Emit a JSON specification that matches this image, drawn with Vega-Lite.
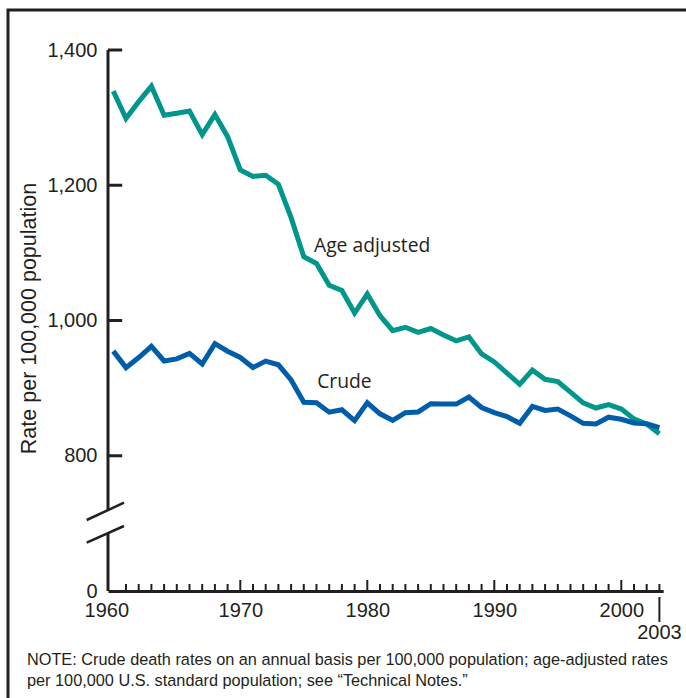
{
  "$schema": "https://vega.github.io/schema/vega-lite/v6.json",
  "width": 555.2,
  "height": 541,
  "autosize": {"type": "none"},
  "padding": {"left": 108, "top": 50, "right": 22.8, "bottom": 107},
  "background": "white",
  "config": {"view": {"stroke": null}, "font": "Liberation Sans"},
  "datasets": {
    "rates": [
      {"year":1960,"series":"Age adjusted","rate":1339.2},{"year":1961,"series":"Age adjusted","rate":1298.8},{"year":1962,"series":"Age adjusted","rate":1323.6},{"year":1963,"series":"Age adjusted","rate":1346.3},{"year":1964,"series":"Age adjusted","rate":1303.6},{"year":1965,"series":"Age adjusted","rate":1306.5},{"year":1966,"series":"Age adjusted","rate":1309.7},{"year":1967,"series":"Age adjusted","rate":1274.8},{"year":1968,"series":"Age adjusted","rate":1304.5},{"year":1969,"series":"Age adjusted","rate":1271.8},
      {"year":1970,"series":"Age adjusted","rate":1222.6},{"year":1971,"series":"Age adjusted","rate":1213.1},{"year":1972,"series":"Age adjusted","rate":1214.8},{"year":1973,"series":"Age adjusted","rate":1201.4},{"year":1974,"series":"Age adjusted","rate":1152.1},{"year":1975,"series":"Age adjusted","rate":1094.3},{"year":1976,"series":"Age adjusted","rate":1084.4},{"year":1977,"series":"Age adjusted","rate":1052.1},{"year":1978,"series":"Age adjusted","rate":1044.5},{"year":1979,"series":"Age adjusted","rate":1011.0},
      {"year":1980,"series":"Age adjusted","rate":1039.1},{"year":1981,"series":"Age adjusted","rate":1007.1},{"year":1982,"series":"Age adjusted","rate":985.0},{"year":1983,"series":"Age adjusted","rate":990.0},{"year":1984,"series":"Age adjusted","rate":982.5},{"year":1985,"series":"Age adjusted","rate":988.1},{"year":1986,"series":"Age adjusted","rate":978.6},{"year":1987,"series":"Age adjusted","rate":970.0},{"year":1988,"series":"Age adjusted","rate":975.7},{"year":1989,"series":"Age adjusted","rate":950.5},
      {"year":1990,"series":"Age adjusted","rate":938.7},{"year":1991,"series":"Age adjusted","rate":922.3},{"year":1992,"series":"Age adjusted","rate":905.6},{"year":1993,"series":"Age adjusted","rate":926.5},{"year":1994,"series":"Age adjusted","rate":913.0},{"year":1995,"series":"Age adjusted","rate":909.8},{"year":1996,"series":"Age adjusted","rate":894.1},{"year":1997,"series":"Age adjusted","rate":878.1},{"year":1998,"series":"Age adjusted","rate":870.6},{"year":1999,"series":"Age adjusted","rate":875.6},
      {"year":2000,"series":"Age adjusted","rate":869.0},{"year":2001,"series":"Age adjusted","rate":854.5},{"year":2002,"series":"Age adjusted","rate":846.8},{"year":2003,"series":"Age adjusted","rate":832.7},
      {"year":1960,"series":"Crude","rate":954.7},{"year":1961,"series":"Crude","rate":930.3},{"year":1962,"series":"Crude","rate":945.2},{"year":1963,"series":"Crude","rate":961.9},{"year":1964,"series":"Crude","rate":940.2},{"year":1965,"series":"Crude","rate":943.2},{"year":1966,"series":"Crude","rate":951.3},{"year":1967,"series":"Crude","rate":935.7},{"year":1968,"series":"Crude","rate":965.7},{"year":1969,"series":"Crude","rate":954.6},
      {"year":1970,"series":"Crude","rate":945.3},{"year":1971,"series":"Crude","rate":930.4},{"year":1972,"series":"Crude","rate":939.9},{"year":1973,"series":"Crude","rate":934.5},{"year":1974,"series":"Crude","rate":912.0},{"year":1975,"series":"Crude","rate":879.0},{"year":1976,"series":"Crude","rate":878.5},{"year":1977,"series":"Crude","rate":864.5},{"year":1978,"series":"Crude","rate":868.0},{"year":1979,"series":"Crude","rate":852.0},
      {"year":1980,"series":"Crude","rate":878.3},{"year":1981,"series":"Crude","rate":862.0},{"year":1982,"series":"Crude","rate":852.4},{"year":1983,"series":"Crude","rate":863.7},{"year":1984,"series":"Crude","rate":864.8},{"year":1985,"series":"Crude","rate":876.9},{"year":1986,"series":"Crude","rate":876.7},{"year":1987,"series":"Crude","rate":876.4},{"year":1988,"series":"Crude","rate":886.7},{"year":1989,"series":"Crude","rate":871.3},
      {"year":1990,"series":"Crude","rate":863.8},{"year":1991,"series":"Crude","rate":858.0},{"year":1992,"series":"Crude","rate":848.0},{"year":1993,"series":"Crude","rate":873.0},{"year":1994,"series":"Crude","rate":867.0},{"year":1995,"series":"Crude","rate":869.0},{"year":1996,"series":"Crude","rate":859.0},{"year":1997,"series":"Crude","rate":848.0},{"year":1998,"series":"Crude","rate":847.0},{"year":1999,"series":"Crude","rate":857.0},
      {"year":2000,"series":"Crude","rate":854.0},{"year":2001,"series":"Crude","rate":848.5},{"year":2002,"series":"Crude","rate":847.3},{"year":2003,"series":"Crude","rate":841.5}
    ],
    "yticks": [{"v":800},{"v":1000},{"v":1200},{"v":1400}],
    "labels": [{"label":"Age adjusted","year":1975.8,"rate":1101.7},{"label":"Crude","year":1976.05,"rate":900.6}],
    "note": [{"text":["NOTE: Crude death rates on an annual basis per 100,000 population; age-adjusted rates","per 100,000 U.S. standard population; see “Technical Notes.”"]}],
    "one": [{}]
  },
  "layer": [
    {
      "data": {"name": "rates"},
      "transform": [{"filter": "datum.series == 'Age adjusted'"}],
      "mark": {"type": "line", "color": "#00968C", "strokeWidth": 5, "strokeJoin": "miter"},
      "encoding": {
        "x": {
          "field": "year", "type": "quantitative",
          "scale": {"domain": [1959.583, 2003.3], "nice": false, "zero": false},
          "axis": {
            "values": [1960, 1970, 1980, 1990, 2000], "format": "d", "title": null,
            "ticks": false, "grid": false, "domain": true, "domainColor": "#231f20", "domainWidth": 3,
            "labelFont": "Liberation Sans", "labelFontSize": 20, "labelColor": "#231f20", "labelPadding": 9,
            "labelOffset": {"condition": {"test": "datum.value == 1960", "value": -7}, "value": 0}
          }
        },
        "y": {
          "field": "rate", "type": "quantitative",
          "scale": {"domain": [600, 1400], "nice": false, "zero": false},
          "axis": {
            "values": [600, 800, 1000, 1200, 1400],
            "labelExpr": "datum.value == 600 ? '0' : format(datum.value, ',')",
            "ticks": false, "grid": false, "domain": false,
            "labelFont": "Liberation Sans", "labelFontSize": 20, "labelColor": "#231f20", "labelPadding": 11,
            "title": "Rate per 100,000 population", "titleFont": "Liberation Sans", "titleFontSize": 21.5,
            "titleFontWeight": "normal", "titleColor": "#231f20", "titleAngle": -90,
            "titleAlign": "center", "titleBaseline": "middle", "titleX": -79, "titleY": 268
          }
        }
      }
    },
    {
      "data": {"name": "rates"},
      "transform": [{"filter": "datum.series == 'Crude'"}],
      "mark": {"type": "line", "color": "#005DAA", "strokeWidth": 5, "strokeJoin": "miter"},
      "encoding": {
        "x": {"field": "year", "type": "quantitative"},
        "y": {"field": "rate", "type": "quantitative"}
      }
    },
    {
      "data": {"name": "one"},
      "mark": {"type": "rect", "filled": false, "stroke": "#231f20", "strokeWidth": 3},
      "encoding": {
        "x": {"datum": 1951.709},
        "x2": {"datum": 2010},
        "y": {"datum": 1459.15},
        "y2": {"datum": 420}
      }
    },
    {
      "data": {"name": "one"},
      "mark": {"type": "rule", "color": "#231f20", "strokeWidth": 3},
      "encoding": {
        "x": {"datum": 1959.583},
        "y": {"datum": 1400},
        "y2": {"datum": 719}
      }
    },
    {
      "data": {"name": "one"},
      "mark": {"type": "rule", "color": "#231f20", "strokeWidth": 3},
      "encoding": {
        "x": {"datum": 1959.583},
        "y": {"datum": 685},
        "y2": {"datum": 600}
      }
    },
    {
      "data": {"name": "one"},
      "mark": {"type": "rule", "color": "#231f20", "strokeWidth": 2.5},
      "encoding": {
        "x": {"datum": 1957.906},
        "x2": {"datum": 1960.843},
        "y": {"datum": 705},
        "y2": {"datum": 730.6}
      }
    },
    {
      "data": {"name": "one"},
      "mark": {"type": "rule", "color": "#231f20", "strokeWidth": 2.5},
      "encoding": {
        "x": {"datum": 1957.906},
        "x2": {"datum": 1960.843},
        "y": {"datum": 671.4},
        "y2": {"datum": 696.1}
      }
    },
    {
      "data": {"name": "yticks"},
      "mark": {"type": "rule", "color": "#231f20", "strokeWidth": 3},
      "encoding": {
        "x": {"datum": 1959.583},
        "x2": {"datum": 1960.7},
        "y": {"field": "v", "type": "quantitative"}
      }
    },
    {
      "data": {"name": "rates"},
      "transform": [{"filter": "datum.series == 'Crude' && datum.year % 10 != 0"}],
      "mark": {"type": "rule", "color": "#231f20", "strokeWidth": 2},
      "encoding": {
        "x": {"field": "year", "type": "quantitative"},
        "y": {"datum": 600},
        "y2": {"datum": 610.4}
      }
    },
    {
      "data": {"name": "rates"},
      "transform": [{"filter": "datum.series == 'Crude' && datum.year % 10 == 0 && datum.year > 1960"}],
      "mark": {"type": "rule", "color": "#231f20", "strokeWidth": 2},
      "encoding": {
        "x": {"field": "year", "type": "quantitative"},
        "y": {"datum": 600},
        "y2": {"datum": 616.3}
      }
    },
    {
      "data": {"name": "one"},
      "mark": {"type": "rule", "color": "#231f20", "strokeWidth": 2},
      "encoding": {
        "x": {"datum": 2003},
        "y": {"datum": 591.1},
        "y2": {"datum": 554.2}
      }
    },
    {
      "data": {"name": "one"},
      "mark": {"type": "text", "text": "2003", "font": "Liberation Sans", "fontSize": 20, "color": "#231f20", "align": "center", "baseline": "middle"},
      "encoding": {
        "x": {"datum": 2003},
        "y": {"datum": 537.9}
      }
    },
    {
      "data": {"name": "labels"},
      "mark": {"type": "text", "font": "Open Sans", "fontSize": 19.3, "color": "#231f20", "align": "left", "baseline": "alphabetic"},
      "encoding": {
        "x": {"field": "year", "type": "quantitative"},
        "y": {"field": "rate", "type": "quantitative"},
        "text": {"field": "label"}
      }
    },
    {
      "data": {"name": "note"},
      "mark": {"type": "text", "font": "Liberation Sans", "fontSize": 16.3, "color": "#231f20", "align": "left", "baseline": "middle", "lineHeight": 21},
      "encoding": {
        "x": {"datum": 1953.205},
        "y": {"datum": 498},
        "text": {"field": "text"}
      }
    }
  ]
}
